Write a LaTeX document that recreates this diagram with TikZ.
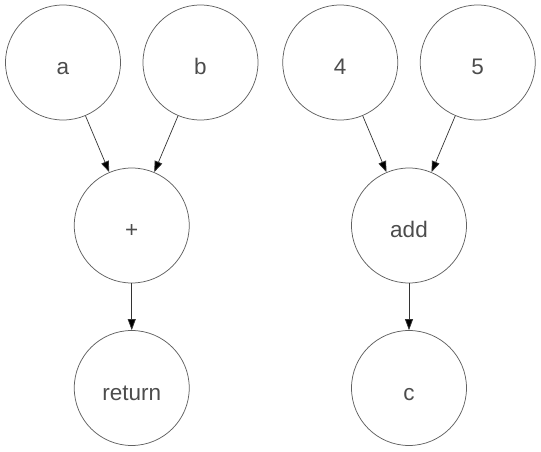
\documentclass[tikz,border=0pt]{standalone}
\usepackage{fontspec}
\setmainfont{Liberation Sans}
\usetikzlibrary{arrows.meta}
\begin{document}
\begin{tikzpicture}[x=1pt,y=1pt,
  vertex/.style={circle, draw=black!62, line width=0.75pt, minimum size=115pt,
    inner sep=0pt, text height=24pt, text depth=0pt, text=black!70,
    font=\fontsize{22.5}{26}\selectfont},
  edge/.style={draw=black!80, line width=0.7pt,
    -{Triangle[length=11pt,width=8pt,fill=black]}}]
  \useasboundingbox (0,0) rectangle (541,451);
  % left graph: a + b, returned
  \node[vertex] (a)   at (63,388.5)   {a};
  \node[vertex] (b)   at (200.5,388.5) {b};
  \node[vertex] (plus) at (131.75,225.5) {+};
  \node[vertex] (ret) at (131.75,63) {return};
  % right graph: add(4, 5) stored in c
  \node[vertex] (four) at (340.25,388.5) {4};
  \node[vertex] (five) at (477.75,388.5) {5};
  \node[vertex] (add)  at (409,225.5) {add};
  \node[vertex] (c)    at (409,63) {c};
  \draw[edge] (a) -- (plus);
  \draw[edge] (b) -- (plus);
  \draw[edge] (plus) -- (ret);
  \draw[edge] (four) -- (add);
  \draw[edge] (five) -- (add);
  \draw[edge] (add) -- (c);
\end{tikzpicture}
\end{document}
